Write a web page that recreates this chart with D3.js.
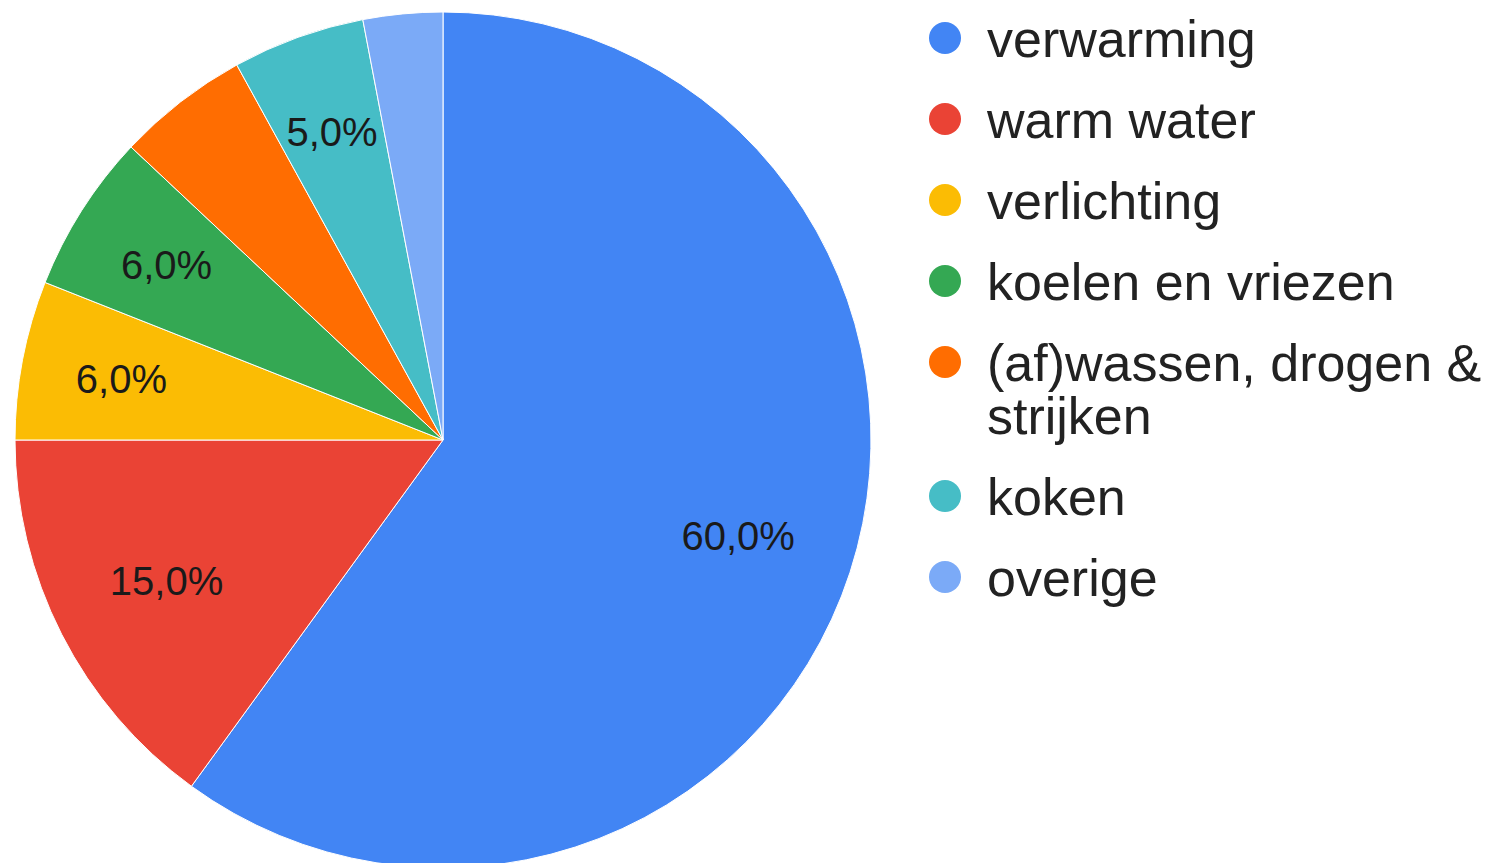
<!DOCTYPE html>
<html>
<head>
<meta charset="utf-8">
<script src="https://cdn.jsdelivr.net/npm/d3@7"></script>
<style>
  html, body { margin: 0; padding: 0; background: #fff; }
  svg { display: block; }
  text { font-family: "Liberation Sans", Arial, sans-serif; }
</style>
</head>
<body>
<svg id="chart" width="1494" height="863"></svg>
<script>
// categories and shares (percent)
const categories = ["verwarming", "warm water", "verlichting", "koelen en vriezen",
  "(af)wassen, drogen & strijken", "koken", "overige"];
const values = [60, 15, 6, 6, 5, 5, 3];
// which slices carry a percentage label in the reference
const showLabel = [true, true, true, true, false, true, false];
const colors = ["#4285f4", "#ea4335", "#fbbc04", "#34a853", "#ff6d01", "#46bdc6", "#7baaf7"];
// legend wraps the long entry over two lines
const legendLines = [["verwarming"], ["warm water"], ["verlichting"], ["koelen en vriezen"],
  ["(af)wassen, drogen &", "strijken"], ["koken"], ["overige"]];

const svg = d3.select("#chart");

const cx = 443, cy = 440, R = 428;

const pie = d3.pie().sort(null).value(d => d.value);
const arc = d3.arc().innerRadius(0).outerRadius(R);
// small slices get their label pushed a bit further out
const bigLabel = d3.arc().innerRadius(R * 0.725).outerRadius(R * 0.725);
const smallLabel = d3.arc().innerRadius(R * 0.765).outerRadius(R * 0.765);

const data = categories.map((c, i) => ({ name: c, value: values[i], color: colors[i], label: showLabel[i] }));
const arcs = pie(data);

const g = svg.append("g").attr("transform", `translate(${cx},${cy})`);

g.selectAll("path.slice")
  .data(arcs)
  .enter().append("path")
  .attr("class", "slice")
  .attr("d", arc)
  .attr("fill", d => d.data.color)
  .attr("stroke", "#fff")
  .attr("stroke-width", 1);

const fmt = v => d3.format(".1f")(v).replace(".", ",") + "%";

g.selectAll("text.pct")
  .data(arcs.filter(d => d.data.label))
  .enter().append("text")
  .attr("class", "pct")
  .attr("transform", d => {
    const c = (d.data.value >= 10 ? bigLabel : smallLabel).centroid(d);
    return `translate(${c})`;
  })
  .attr("text-anchor", "middle")
  .attr("dy", "0.36em")
  .attr("font-size", 40)
  .attr("fill", "#1a1a1a")
  .text(d => fmt(d.data.value));

// legend
const legend = svg.append("g");
let y = 38;
legendLines.forEach((lines, i) => {
  legend.append("circle")
    .attr("cx", 945)
    .attr("cy", y)
    .attr("r", 16)
    .attr("fill", colors[i]);
  const t = legend.append("text")
    .attr("x", 987)
    .attr("y", y)
    .attr("font-size", 52)
    .attr("fill", "#222");
  lines.forEach((l, j) => {
    t.append("tspan").attr("x", 987).attr("dy", j === 0 ? "0.36em" : 53).text(l);
  });
  y += 81 + (lines.length - 1) * 53;
});
</script>
</body>
</html>
